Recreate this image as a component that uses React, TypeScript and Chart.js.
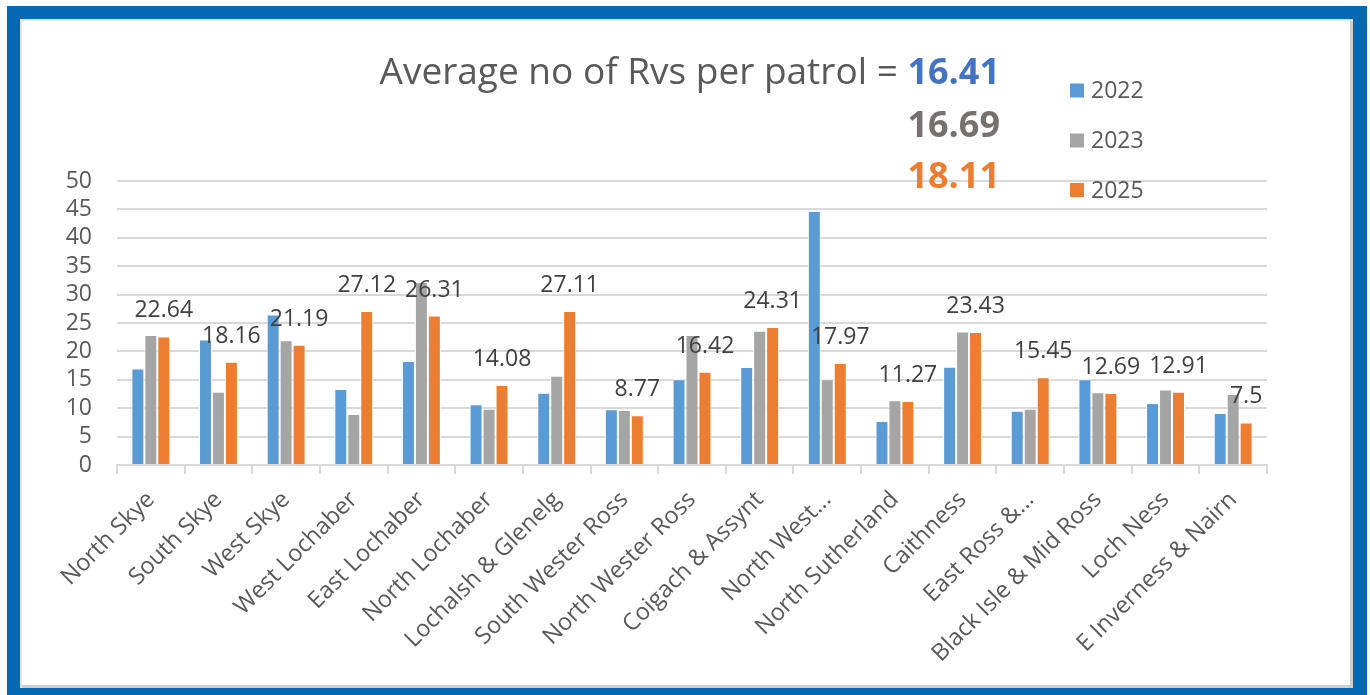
import React, { useEffect, useRef } from 'react';
import { Chart, registerables } from 'chart.js';

Chart.register(...registerables);

const categories = [
  'North Skye', 'South Skye', 'West Skye', 'West Lochaber', 'East Lochaber',
  'North Lochaber', 'Lochalsh & Glenelg', 'South Wester Ross', 'North Wester Ross',
  'Coigach & Assynt', 'North West...', 'North Sutherland', 'Caithness',
  'East Ross &...', 'Black Isle & Mid Ross', 'Loch Ness', 'E Inverness & Nairn',
];

const seriesNames = ['2022', '2023', '2025'];
const series2022 = [17.0, 22.1, 26.5, 13.4, 18.3, 10.7, 12.7, 9.8, 15.1, 17.25, 44.7, 7.75, 17.3, 9.56, 15.1, 10.9, 9.15];
const series2023 = [22.9, 12.9, 21.95, 9.0, 32.2, 9.9, 15.7, 9.7, 22.9, 23.65, 15.1, 11.4, 23.5, 9.9, 12.8, 13.3, 12.5];
const series2025 = [22.64, 18.16, 21.19, 27.12, 26.31, 14.08, 27.11, 8.77, 16.42, 24.31, 17.97, 11.27, 23.43, 15.45, 12.69, 12.91, 7.5];

const seriesColors = ['#5B9BD5', '#A5A5A5', '#ED7D31'];

const yMin = 0;
const yMax = 50;
const yStep = 5;

const averageLabel = 'Average no of Rvs per patrol = ';
const averages = ['16.41', '16.69', '18.11'];
const averageColors = ['#4472C4', '#767171', '#ED7D31'];

const FONT = '"Open Sans", "DejaVu Sans", sans-serif';

const overlayPlugin = {
  id: 'overlay',
  afterDatasetsDraw(chart: any) {
    const ctx = chart.ctx;
    ctx.save();
    // data labels on 2025 series
    const meta = chart.getDatasetMeta(2);
    ctx.font = `23px ${FONT}`;
    ctx.fillStyle = '#404040';
    ctx.textAlign = 'center';
    ctx.textBaseline = 'alphabetic';
    meta.data.forEach((bar: any, i: number) => {
      ctx.fillText(String(series2025[i]), bar.x, bar.y - 19);
    });
    ctx.restore();
  },
  afterDraw(chart: any) {
    const ctx = chart.ctx;
    ctx.save();
    // title with averages
    const right = 1000;
    const baselines = [84, 137, 188];
    ctx.textAlign = 'right';
    ctx.textBaseline = 'alphabetic';
    ctx.font = `bold 36px ${FONT}`;
    const numW = ctx.measureText(averages[0]).width;
    averages.forEach((a, i) => {
      ctx.fillStyle = averageColors[i];
      ctx.fillText(a, right, baselines[i]);
    });
    ctx.font = `37px ${FONT}`;
    ctx.fillStyle = '#595959';
    ctx.fillText(averageLabel, right - numW, baselines[0]);

    // legend
    const legendY = [90.5, 140.5, 190];
    ctx.textAlign = 'left';
    ctx.textBaseline = 'middle';
    ctx.font = `23px ${FONT}`;
    seriesNames.forEach((name, i) => {
      ctx.fillStyle = seriesColors[i];
      ctx.fillRect(1070, legendY[i] - 7, 14, 14);
      ctx.fillStyle = '#595959';
      ctx.fillText(name, 1091, legendY[i] + 1);
    });
    ctx.restore();
  },
};

export default function App() {
  const canvasRef = useRef<HTMLCanvasElement | null>(null);

  useEffect(() => {
    const canvas = canvasRef.current;
    if (!canvas) return;
    const chart = new Chart(canvas, {
      type: 'bar',
      data: {
        labels: categories,
        datasets: [series2022, series2023, series2025].map((d, i) => ({
          label: seriesNames[i],
          data: d,
          backgroundColor: seriesColors[i],
          borderColor: '#FFFFFF',
          borderWidth: 1,
          borderSkipped: 'start',
          categoryPercentage: 0.575,
          barPercentage: 1.0,
        })),
      },
      options: {
        responsive: false,
        animation: false,
        devicePixelRatio: 1,
        layout: { padding: { left: 40, right: 103, top: 181, bottom: 0 } },
        plugins: {
          legend: { display: false },
          title: { display: false },
          tooltip: { enabled: false },
        },
        scales: {
          x: {
            grid: {
              display: true,
              drawOnChartArea: false,
              drawTicks: true,
              tickLength: 9,
              color: '#D9D9D9',
              lineWidth: 2,
              offset: true,
            },
            border: { display: true, color: '#D9D9D9', width: 2 },
            ticks: {
              autoSkip: false,
              maxRotation: 45,
              minRotation: 45,
              padding: 12,
              color: '#595959',
              font: { family: FONT, size: 23.5 },
            },
            afterFit: (scale: any) => { scale.height = 230; },
          },
          y: {
            min: yMin,
            max: yMax,
            ticks: {
              stepSize: yStep,
              autoSkip: false,
              padding: 25,
              color: '#595959',
              font: { family: FONT, size: 23 },
            },
            grid: { color: '#D9D9D9', lineWidth: 2, drawTicks: false },
            border: { display: false },
            afterFit: (scale: any) => { scale.width = 77; },
          },
        },
      },
      plugins: [overlayPlugin],
    });
    return () => chart.destroy();
  }, []);

  return (
    <div style={{ position: 'absolute', left: 0, top: 0, width: 1370, height: 695, overflow: 'hidden', background: '#FFFFFF' }}>
      <canvas ref={canvasRef} width={1370} height={695} style={{ display: 'block', width: 1370, height: 695 }} />
      <div
        style={{
          position: 'absolute',
          left: 7,
          top: 6,
          width: 1360,
          height: 689,
          boxSizing: 'border-box',
          borderStyle: 'solid',
          borderColor: '#0468B2',
          borderWidth: '13px 14px 7px 13px',
          boxShadow: 'inset 2px 2px 0 #E4E4E4, inset -3px -3px 0 #CFCFCF',
          pointerEvents: 'none',
        }}
      />
    </div>
  );
}
